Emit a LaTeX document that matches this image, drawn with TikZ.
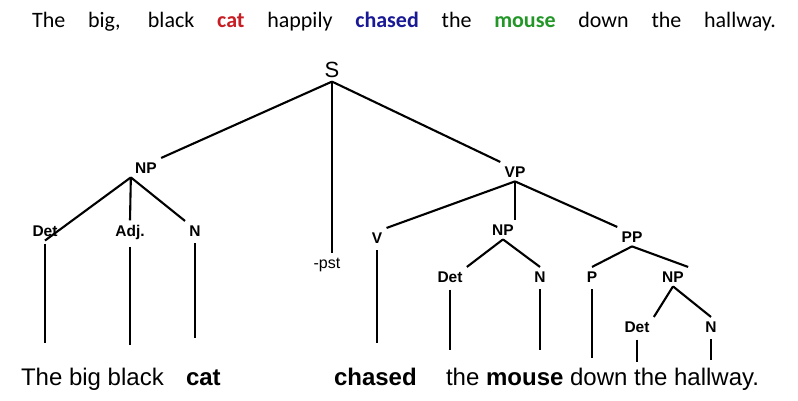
\documentclass[tikz,border=0pt]{standalone}
\usepackage{fontspec}
\setmainfont{Liberation Sans}
\newfontfamily\topfont{Carlito}
\usetikzlibrary{positioning}
\definecolor{catred}{RGB}{200,30,35}
\definecolor{chaseblue}{RGB}{25,25,150}
\definecolor{mousegreen}{RGB}{35,150,40}
\newcommand{\rd}[1]{\textcolor{catred}{\textbf{#1}}}
\newcommand{\bl}[1]{\textcolor{chaseblue}{\textbf{#1}}}
\newcommand{\gr}[1]{\textcolor{mousegreen}{\textbf{#1}}}

\begin{document}
\begin{tikzpicture}[x=1pt,y=-1pt,line width=2.1pt,
    syn/.style={anchor=base,font=\bfseries\fontsize{15.5}{18}\selectfont},
    word/.style={anchor=base west,inner sep=0,font=\fontsize{24}{28}\selectfont}]
      \useasboundingbox (0,0) rectangle (798,400);
      \node[anchor=base west, inner sep=0, font=\topfont\fontsize{22}{26}\selectfont] (sentence) at (31,27)
        {\makebox[744pt][s]{The big, black \rd{cat} happily \bl{chased} the \gr{mouse} down the hallway.}};
      \node[anchor=base,font=\fontsize{22}{26}\selectfont] (S) at (332,77) {S};
      \node[syn] (np1) at (146,173) {NP};
      \node[syn] (det1) at (45,236) {Det};
      \node[syn] (adj) at (130,236) {Adj.};
      \node[syn] (n1) at (195,236) {N};
      \node[anchor=base,font=\fontsize{16}{19}\selectfont] (pst) at (327,268) {-pst};
      \node[syn] (vp) at (515,177) {VP};
      \node[syn] (v) at (377,243) {V};
      \node[syn] (np2) at (503,235) {NP};
      \node[syn] (pp) at (632,242) {PP};
      \node[syn] (det2) at (450,282) {Det};
      \node[syn] (n2) at (540,282) {N};
      \node[syn] (p) at (592,282) {P};
      \node[syn] (np3) at (673,282) {NP};
      \node[syn] (det3) at (637,332) {Det};
      \node[syn] (n3) at (711,332) {N};
      \node[word] (w1) at (20,385) {The big black};
      \node[word] (w2) at (185,385) {\textbf{cat}};
      \node[word] (w3) at (333,385) {\textbf{chased}};
      \node[word] (w4) at (445,385) {the \textbf{mouse} down the hallway.};
      % branches
      \draw (S.south) -- (np1.north east);
      \draw (S.south) -- (S.south |- pst.north);
      \draw (S.south) -- (vp.north west);
      \draw (np1.south west) -- (det1.south);
      \draw (np1.south west) -- (adj.north);
      \draw (np1.south west) -- (n1.north west);
      \draw (vp.south) -- (v.north east);
      \draw (vp.south) -- (vp.south |- np2.north);
      \draw (vp.south) -- (pp.north west);
      \draw (np2.south) -- (det2.north east);
      \draw (np2.south) -- (n2.north);
      \draw (pp.south) -- (p.north);
      \draw (pp.south) -- (np3.north east);
      \draw (np3.south) -- (det3.north east);
      \draw (np3.south) -- (n3.north);
      % leaves
      \foreach \n/\y in {det1/343,adj/345,n1/338,v/343,det2/350,n2/350,p/358,det3/362,n3/360}
        \draw[shorten <=3pt] (\n.south) -- (\n.south |- 0,\y);
\end{tikzpicture}
\end{document}
